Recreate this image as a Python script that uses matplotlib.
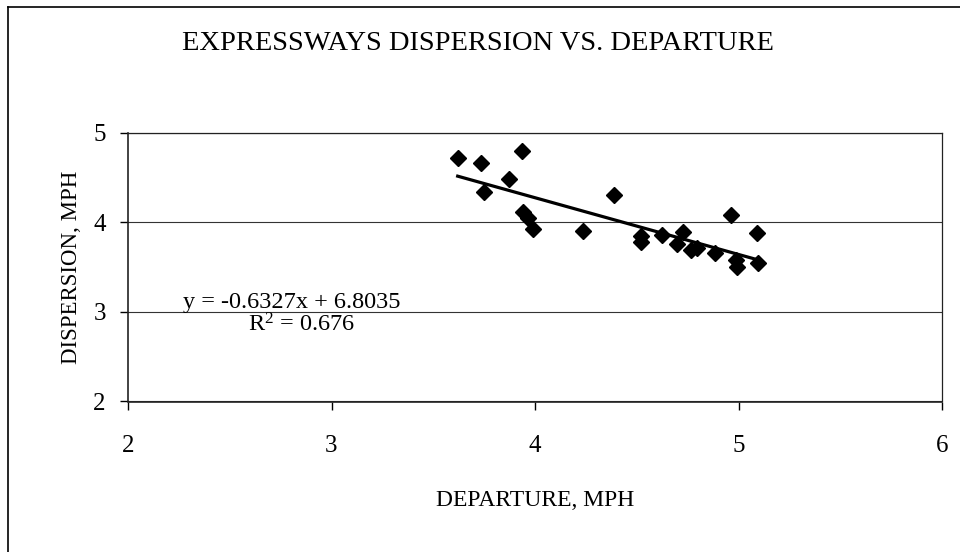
import matplotlib
matplotlib.use("Agg")
import matplotlib.pyplot as plt
from matplotlib.lines import Line2D
import numpy as np

plt.rcParams['font.family'] = ['Liberation Serif', 'DejaVu Serif']
plt.rcParams['mathtext.fontset'] = 'custom'
plt.rcParams['mathtext.rm'] = 'Liberation Serif'
plt.rcParams['mathtext.it'] = 'Liberation Serif:italic'

departure = [3.62, 3.735, 3.749, 3.872, 3.935, 3.941, 3.966, 3.990, 4.236, 4.388,
             4.521, 4.521, 4.624, 4.727, 4.698, 4.767, 4.796, 4.885, 4.963, 5.093,
             4.988, 4.993, 5.096]
dispersion = [4.716, 4.66, 4.336, 4.48, 4.794, 4.11, 4.05, 3.92, 3.90, 4.30,
              3.85, 3.78, 3.86, 3.89, 3.76, 3.69, 3.71, 3.66, 4.08, 3.88,
              3.58, 3.50, 3.54]
slope = -0.6327
intercept = 6.8035
r2 = 0.676
x_ticks = [2, 3, 4, 5, 6]
y_ticks = [2, 3, 4, 5]

fig = plt.figure(figsize=(9.6, 5.52), dpi=100)
W, H = 960, 552
ax = fig.add_axes([128 / W, 1 - 401.5 / H, (942 - 128) / W, (401.5 - 132.5) / H])

ax.set_xlim(2, 6)
ax.set_ylim(2, 5)
ax.set_xticks(x_ticks)
ax.set_yticks(y_ticks)
ax.tick_params(axis='both', labelsize=18, direction='out', length=6, width=1, color='black')
ax.tick_params(axis='x', pad=18)
ax.tick_params(axis='y', pad=10)
ax.grid(axis='y', color='#333333', linewidth=0.8)
ax.set_axisbelow(True)
for s in ax.spines.values():
    s.set_color('#222222')
    s.set_linewidth(0.9)
ax.spines['left'].set_linewidth(1.2)
ax.spines['bottom'].set_linewidth(1.2)

ax.plot(departure, dispersion, linestyle='none', marker='D', markersize=8,
        color='black', zorder=3)
xs = np.array([min(departure), max(departure)])
ax.plot(xs, slope * xs + intercept, color='black', linewidth=2.3, zorder=4)

ax.text(2.27, 3.10, f"y = {slope}x + {intercept}", fontsize=17.5, va='center', ha='left')
ax.text(2.59, 2.85, r"R$^{2}$" + f" = {r2}", fontsize=17.5, va='center', ha='left')

ax.set_xlabel("DEPARTURE, MPH", fontsize=17, labelpad=24)
ax.set_ylabel("DISPERSION, MPH", fontsize=16.5, labelpad=8)

fig.text(478 / W, 1 - 43 / H, "EXPRESSWAYS DISPERSION VS. DEPARTURE",
         fontsize=20.5, ha='center', va='center')

fig.add_artist(Line2D([8 / W, 8 / W], [0, 1 - 7 / H], color='black', linewidth=1.2,
                      transform=fig.transFigure))
fig.add_artist(Line2D([8 / W, 1], [1 - 7 / H, 1 - 7 / H], color='black', linewidth=1.2,
                      transform=fig.transFigure))

fig.savefig("out.png", dpi=100)
